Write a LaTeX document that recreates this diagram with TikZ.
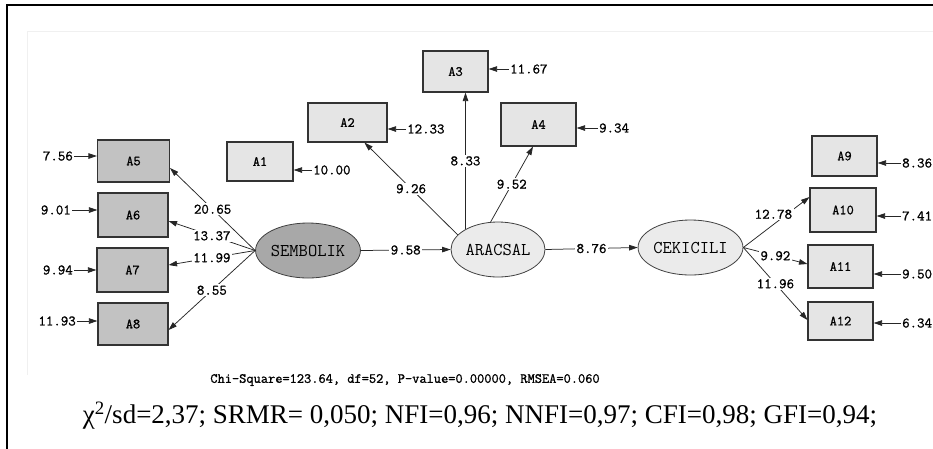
\documentclass[tikz,border=0pt]{standalone}
\usepackage{fontspec}
\setmainfont{Liberation Serif}
\newfontfamily\lisfont[FakeBold=1.2]{Latin Modern Mono}
\newfontfamily\lislight{Latin Modern Mono}
\usetikzlibrary{arrows.meta,shapes.geometric,calc}

\tikzset{
  obs/.style={draw=black!80, line width=1.1pt, inner sep=0pt,
    font=\lisfont\fontsize{14}{14}\selectfont},
  obsdark/.style={obs, fill=black!24},
  obslight/.style={obs, fill=black!10},
  lat/.style={ellipse, draw=black!75, line width=0.8pt, inner sep=0pt,
    minimum width=94pt, minimum height=55pt,
    font=\lislight\fontsize{18}{18}\selectfont},
  num/.style={font=\lisfont\fontsize{14.5}{14.5}\selectfont, inner sep=1pt},
  lbl/.style={num, fill=white, inner sep=1.5pt},
  arr/.style={draw=black!85, line width=0.75pt,
    -{Triangle[length=8.5pt,width=5.5pt]}},
}

\begin{document}
\begin{tikzpicture}[x=1pt, y=-1pt]
\useasboundingbox (0,0) rectangle (933,448);
\clip (0,0) rectangle (933,448);

% frames
\draw[black!6, line width=0.8pt] (27,375) -- (27,31) -- (935,31);
\draw[line width=1.4pt] (7,450) -- (7,5) -- (935,5);

% latent variables
\node[lat, fill=black!34] (sem) at (308,250.5) {SEMBOLIK};
\node[lat, fill=black!8]  (ara) at (498,249.5) {ARACSAL};
\node[lat, fill=black!8]  (cek) at (690.5,247.5) {CEKICILI};

% indicators
\node[obslight, minimum width=66pt, minimum height=39pt] (a1) at (260,161.5) {A1};
\node[obslight, minimum width=79pt, minimum height=39pt] (a2) at (347.5,122.5) {A2};
\node[obslight, minimum width=65pt, minimum height=41pt] (a3) at (455.5,71.5) {A3};
\node[obslight, minimum width=75pt, minimum height=43pt] (a4) at (538.5,124.5) {A4};
\node[obsdark, minimum width=72pt, minimum height=42pt] (a5) at (133.5,161) {A5};
\node[obsdark, minimum width=70pt, minimum height=44pt] (a6) at (133,215) {A6};
\node[obsdark, minimum width=71pt, minimum height=44pt] (a7) at (132.5,270) {A7};
\node[obsdark, minimum width=70pt, minimum height=42pt] (a8) at (133,324) {A8};
\node[obslight, minimum width=65pt, minimum height=40pt] (a9) at (844.5,156) {A9};
\node[obslight, minimum width=66pt, minimum height=44pt] (a10) at (843,210) {A10};
\node[obslight, minimum width=65pt, minimum height=43pt] (a11) at (840.5,266.5) {A11};
\node[obslight, minimum width=65pt, minimum height=38pt] (a12) at (840.5,321) {A12};

% error variances
\node[num, anchor=west] (e1) at (312,170) {10.00};
\node[num, anchor=west] (e2) at (406,129) {12.33};
\node[num, anchor=west] (e3) at (509,69) {11.67};
\node[num, anchor=west] (e4) at (598,128) {9.34};
\node[num, anchor=east] (e5) at (74,156) {7.56};
\node[num, anchor=east] (e6) at (72,210) {9.01};
\node[num, anchor=east] (e7) at (74,270) {9.94};
\node[num, anchor=east] (e8) at (77,321) {11.93};
\node[num, anchor=west] (e9) at (901,163) {8.36};
\node[num, anchor=west] (e10) at (901,216) {7.41};
\node[num, anchor=west] (e11) at (901,274) {9.50};
\node[num, anchor=west] (e12) at (901,323) {6.34};

\foreach \e/\a in {e1/a1, e2/a2, e3/a3, e4/a4, e9/a9, e10/a10, e11/a11, e12/a12}
  \draw[arr] (\e.west) -- (\e.west -| \a.east);
\foreach \e/\a in {e5/a5, e6/a6, e7/a7, e8/a8}
  \draw[arr] (\e.east) -- (\e.east -| \a.west);

% loadings
\draw[arr] (sem.west) -- node[lbl] {20.65} ([yshift=-7pt]a5.east);
\draw[arr] (sem.west) -- node[lbl] {13.37} ([yshift=-6pt]a6.east);
\draw[arr] (sem.west) -- node[lbl] {11.99} ([yshift=5pt]a7.east);
\draw[arr] (sem.west) -- node[lbl] {8.55} ([yshift=-6pt]a8.east);

\draw[arr] (ara.160) -- node[lbl] {9.26} ([xshift=17pt]a2.south);
\draw[arr] (ara.148) -- node[lbl] {8.33} (ara.148 |- a3.south);
\draw[arr] (ara.105) -- node[lbl] {9.52} ([xshift=-5.5pt]a4.south);

\draw[arr] (cek.east) -- node[lbl, xshift=-3pt, yshift=8pt] {12.78} ([yshift=13pt]a10.west);
\draw[arr] (cek.east) -- node[lbl] {9.92} ([yshift=2.5pt]a11.west);
\draw[arr] (cek.east) -- node[lbl] {11.96} ([yshift=1pt]a12.west);

% structural paths
\draw[arr] (sem.east) -- node[lbl] {9.58} (ara.west);
\draw[arr] (ara.east) -- node[lbl] {8.76} (cek.west);

% fit statistics
\node[font=\lisfont\fontsize{14}{14}\selectfont, inner sep=1pt] (chi) at (405,380)
  {Chi-Square=123.64, df=52, P-value=0.00000, RMSEA=0.060};
\node[font=\rmfamily\fontsize{27}{27}\selectfont, inner sep=0pt] (fit) at (480,416)
  {χ\textsuperscript{2}/sd=2,37; SRMR= 0,050; NFI=0,96; NNFI=0,97; CFI=0,98; GFI=0,94;};
\end{tikzpicture}
\end{document}
